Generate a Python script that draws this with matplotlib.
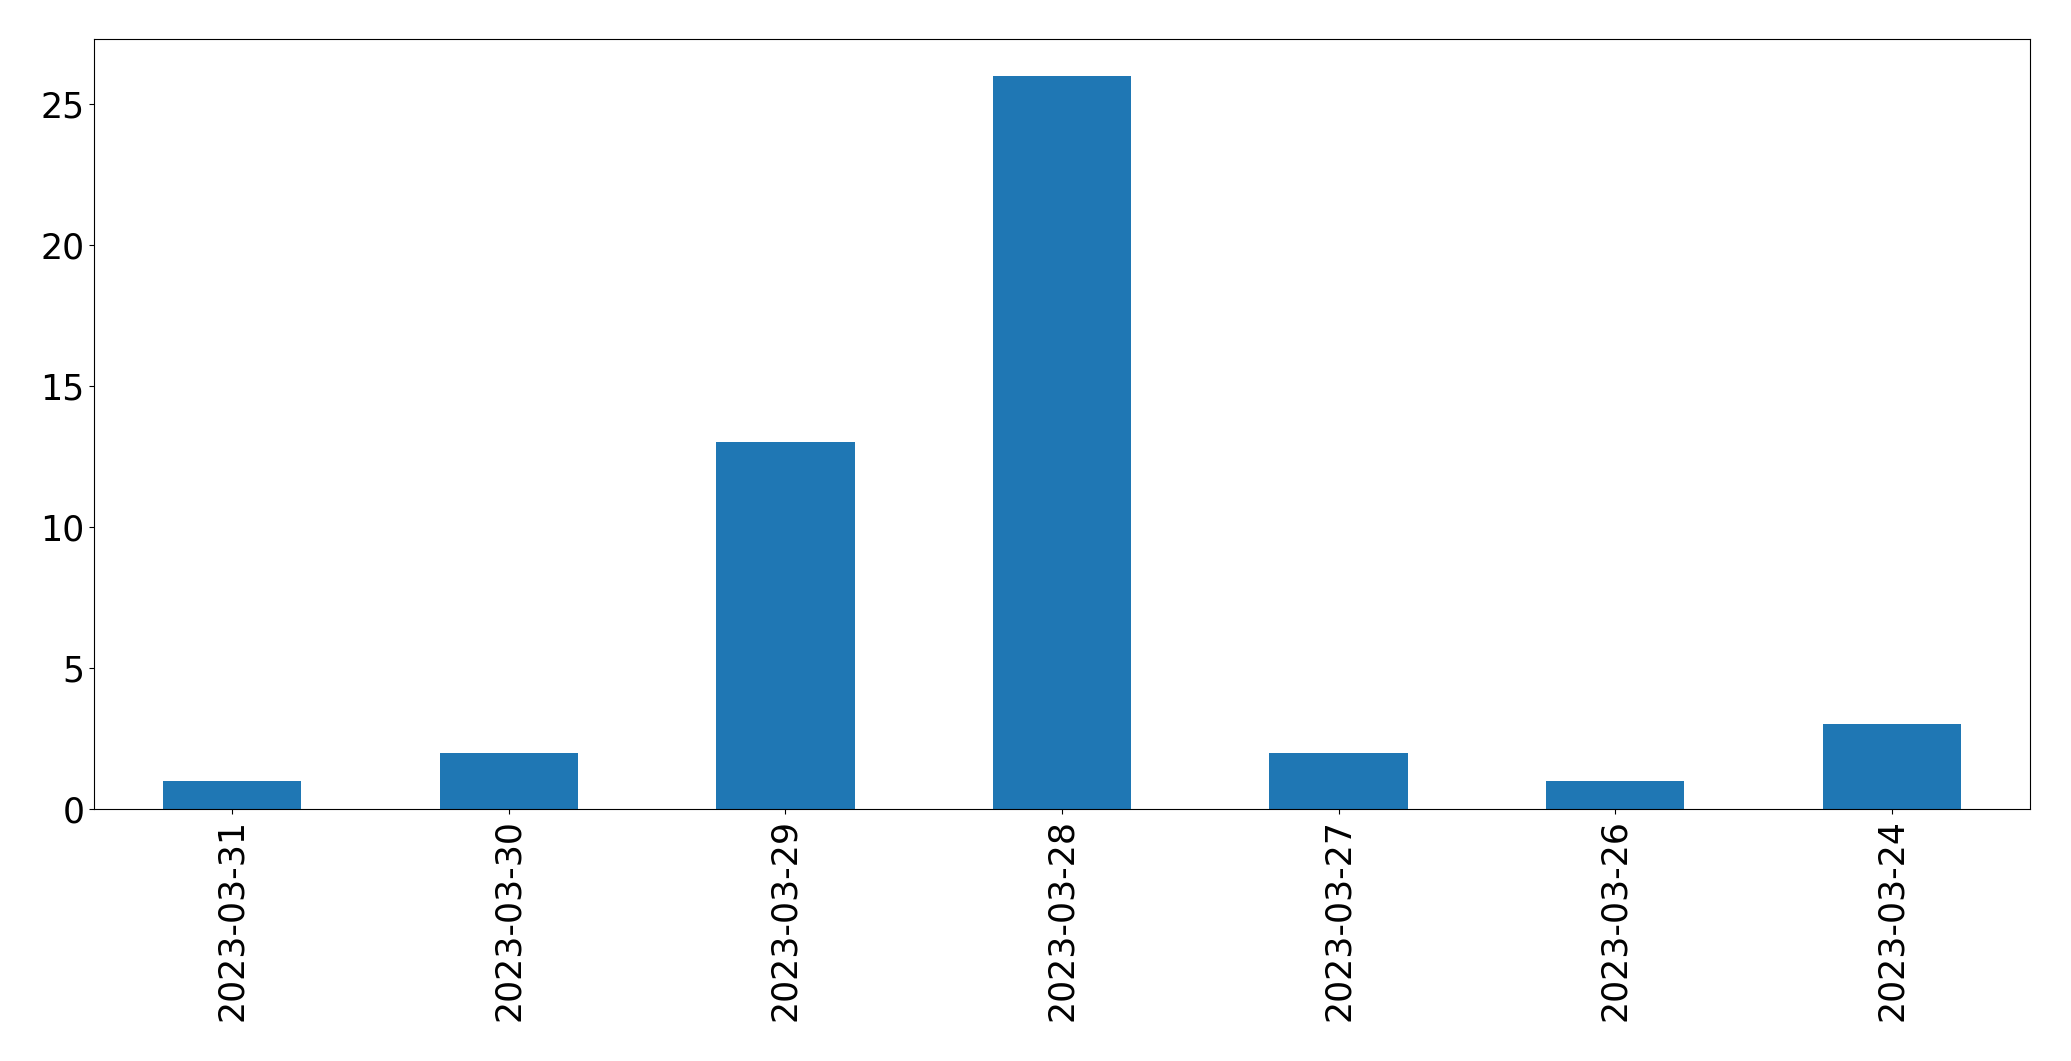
import numpy as np
import pandas as pd
import matplotlib
matplotlib.use("Agg")
import matplotlib.pyplot as plt

dates = ["2023-03-31", "2023-03-30", "2023-03-29", "2023-03-28",
         "2023-03-27", "2023-03-26", "2023-03-24"]
counts = [1, 2, 13, 26, 2, 1, 3]

s = pd.Series(counts, index=dates)

fig = plt.figure(figsize=(20.71, 10.61), dpi=100)
ax = fig.add_axes([94 / 2071, 1 - 809 / 1061, (2030 - 94) / 2071, (809 - 39) / 1061])
s.plot(kind="bar", ax=ax, color="#1f77b4", fontsize=25)

fig.savefig("out.png", dpi=100)
